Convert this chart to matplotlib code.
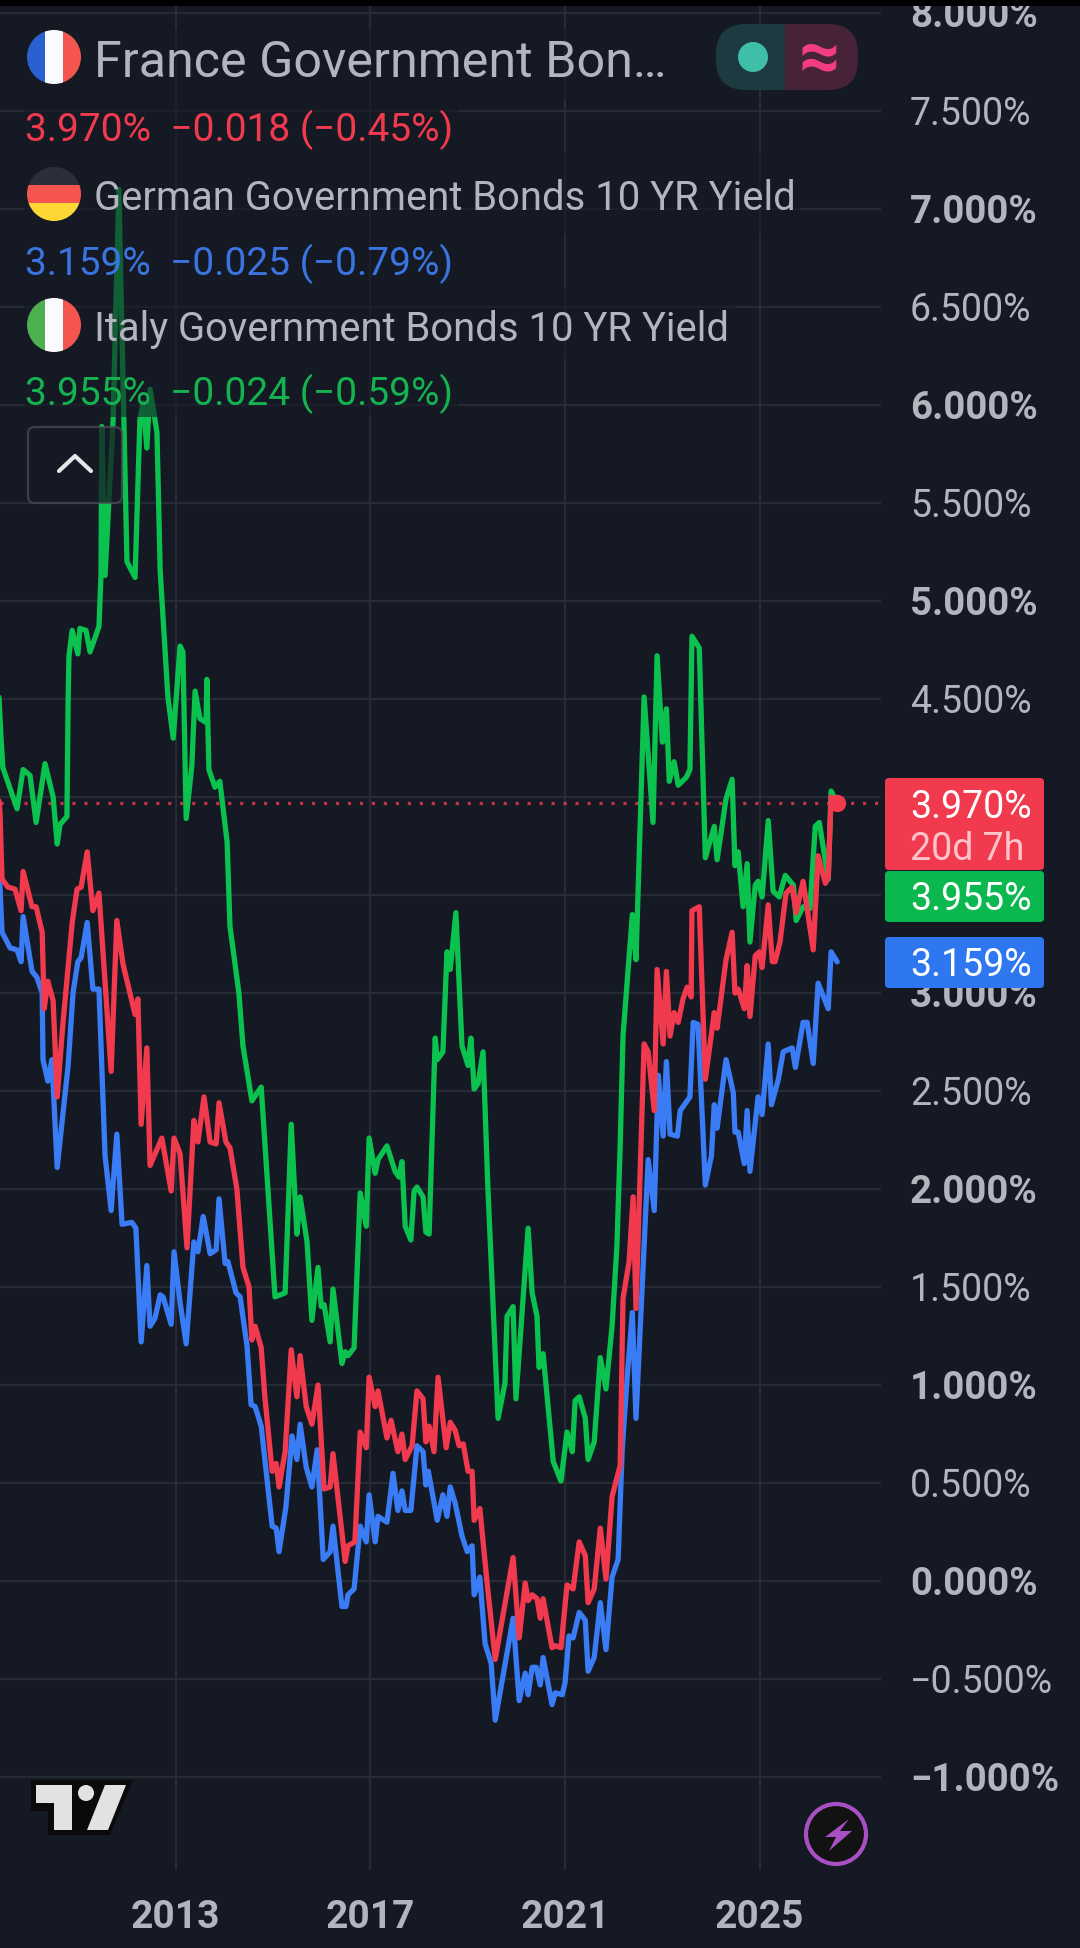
import matplotlib
matplotlib.use("Agg")
import matplotlib.pyplot as plt
from matplotlib.patches import Circle, FancyBboxPatch, Polygon, Rectangle
from matplotlib.transforms import ScaledTranslation, blended_transform_factory

plt.rcParams['font.family'] = ['Roboto', 'DejaVu Sans']

BG = '#151924'
GRID = '#272b36'
TEXT = '#b2b5be'
RED = '#f23a4e'
GREEN = '#0bc24f'
BLUE = '#3a7cf5'

# x values are months since January 2013
italy_m = [-44.0, -43.1, -42.6, -39.1, -37.6, -35.9, -34.4, -32.2, -30.2, -29.2, -28.5, -26.8, -26.5, -26.3, -25.5,
           -24.1, -23.6, -22.1, -21.1, -18.9, -18.4, -18.2, -17.4, -15.4, -14.0, -12.0, -10.0, -8.8, -8.0, -7.1,
           -6.3, -4.6, -3.8, -1.9, -0.6, 1.1, 1.8, 2.6, 4.0, 4.8, 6.0, 7.5, 7.7, 8.2, 9.7, 10.9, 12.7, 13.4, 15.6,
           16.6, 18.8, 21.1, 24.5, 27.0, 28.5, 29.9, 30.7, 32.4, 33.6, 35.1, 35.9, 36.6, 38.1, 38.8, 41.0, 41.8,
           42.5, 44.0, 45.5, 47.0, 47.7, 49.2, 49.9, 52.1, 54.1, 55.1, 55.8, 56.6, 58.0, 58.8, 59.5, 61.0, 61.7,
           62.5, 64.0, 64.5, 65.9, 66.9, 67.7, 69.1, 70.6, 72.1, 72.8, 73.6, 74.6, 75.8, 77.0, 79.5, 81.2, 81.7,
           83.2, 83.9, 86.9, 87.9, 89.1, 89.6, 90.6, 93.1, 95.0, 96.5, 97.8, 98.5, 99.5, 101.0, 101.7, 103.2,
           104.7, 106.1, 107.6, 108.8, 109.6, 110.3, 112.6, 113.5, 115.5, 117.7, 118.7, 120.0, 121.0, 121.7,
           122.9, 123.9, 125.9, 126.8, 127.3, 129.1, 130.6, 132.8, 133.5, 135.7, 137.2, 137.9, 138.7, 139.9,
           140.9, 141.6, 142.9, 143.6, 144.6, 146.1, 147.3, 148.8, 150.3, 152.3, 153.0, 154.7, 156.4, 157.7,
           158.7, 160.9, 161.6, 162.1, 163.1]
italy_y = [4.70, 4.32, 4.15, 3.94, 4.14, 4.11, 3.87, 4.17, 4.00, 3.76, 3.86, 3.90, 4.50, 4.72, 4.85,
           4.73, 4.86, 4.85, 4.74, 4.87, 5.13, 5.89, 5.13, 5.93, 7.10, 5.20, 5.12, 5.93, 6.01, 5.78,
           6.08, 5.86, 5.15, 4.51, 4.30, 4.77, 4.74, 3.89, 4.16, 4.54, 4.40, 4.38, 4.60, 4.14, 4.05, 4.08, 3.77, 3.34, 3.00,
           2.73, 2.45, 2.52, 1.45, 1.47, 2.33, 1.77, 1.96, 1.73, 1.33, 1.60, 1.40, 1.41, 1.22, 1.49, 1.11, 1.17,
           1.15, 1.19, 1.98, 1.81, 2.26, 2.08, 2.15, 2.22, 2.09, 2.06, 2.14, 1.81, 1.74, 1.99, 2.01, 1.96, 1.78,
           1.77, 2.77, 2.66, 2.70, 3.21, 3.12, 3.41, 2.73, 2.63, 2.77, 2.51, 2.54, 2.70, 2.00, 0.83, 1.01, 1.35,
           1.40, 0.93, 1.80, 1.47, 1.35, 1.09, 1.16, 0.61, 0.51, 0.76, 0.66, 0.92, 0.94, 0.83, 0.62, 0.71,
           1.14, 0.98, 1.30, 1.71, 2.22, 2.78, 3.40, 3.17, 4.51, 3.87, 4.72, 4.28, 4.45, 4.08,
           4.18, 4.06, 4.10, 4.14, 4.82, 4.76, 3.69, 3.85, 3.68, 3.99, 4.09, 3.65, 3.72, 3.44,
           3.66, 3.26, 3.55, 3.57, 3.49, 3.88, 3.52, 3.49, 3.60, 3.55, 3.37, 3.44, 3.43, 3.85,
           3.87, 3.58, 4.03, 4.01, 3.955]

germany_m = [-44.0, -43.3, -42.8, -40.8, -39.1, -38.1, -37.6, -35.4, -34.2, -32.9, -32.7, -31.5, -30.5, -29.2, -27.8,
             -26.5, -25.3, -24.1, -23.3, -21.8, -20.4, -18.9, -17.4, -15.9, -14.5, -13.2, -10.8, -9.8, -8.5, -7.1,
             -6.3, -5.1, -3.8, -3.1, -1.1, -0.4, 1.1, 2.6, 4.5, 5.5, 6.8, 8.5, 10.0, 10.7, 12.2, 12.9, 14.9, 15.9,
             17.6, 18.6, 19.6, 21.1, 23.8, 24.8, 25.5, 27.2, 28.7, 29.9, 30.7, 32.2, 33.6, 34.9, 36.4, 38.1, 38.8,
             41.0, 42.0, 42.5, 44.0, 45.5, 47.0, 47.7, 49.2, 49.9, 52.1, 53.6, 54.8, 55.8, 56.6, 58.0, 59.5, 61.0,
             61.7, 62.3, 64.5, 65.9, 66.9, 67.7, 68.9, 70.6, 71.9, 73.1, 73.6, 75.0, 76.3, 77.8, 78.8, 83.2, 84.7,
             86.2, 86.9, 87.9, 88.9, 89.9, 90.6, 92.8, 93.6, 95.3, 96.0, 97.0, 98.0, 99.5, 101.0, 101.7, 103.2,
             104.7, 106.1, 107.6, 109.1, 110.1, 111.3, 112.6, 113.5, 116.5, 118.0, 119.0, 120.2, 121.0, 121.9,
             123.7, 124.4, 126.8, 127.6, 128.8, 130.6, 132.1, 132.8, 133.5, 135.7, 137.5, 137.9, 138.7, 140.2,
             140.9, 141.6, 143.6, 144.6, 146.1, 146.9, 148.6, 149.8, 152.0, 152.8, 154.7, 155.7, 157.2, 158.4,
             160.9, 161.6, 163.1]
germany_y = [3.68, 3.54, 3.31, 3.23, 3.22, 3.16, 3.39, 3.11, 3.08, 3.00, 2.66, 2.55, 2.66, 2.11, 2.38,
             2.63, 3.00, 3.16, 3.18, 3.36, 3.02, 3.02, 2.17, 1.89, 2.28, 1.82, 1.83, 1.80, 1.22, 1.61,
             1.30, 1.34, 1.46, 1.45, 1.31, 1.68, 1.42, 1.21, 1.73, 1.68, 1.86, 1.67, 1.69, 1.95, 1.62, 1.63, 1.47, 1.45,
             1.20, 0.90, 0.89, 0.79, 0.28, 0.27, 0.15, 0.38, 0.74, 0.62, 0.80, 0.58, 0.48, 0.67, 0.11, 0.15, 0.28,
             -0.13, -0.13, -0.07, -0.04, 0.28, 0.20, 0.44, 0.20, 0.33, 0.30, 0.55, 0.36, 0.46, 0.36, 0.36, 0.69, 0.66,
             0.49, 0.56, 0.31, 0.44, 0.33, 0.48, 0.40, 0.23, 0.15, 0.18, -0.07, 0.02, -0.32, -0.42, -0.71, -0.19, -0.61,
             -0.47, -0.58, -0.44, -0.44, -0.53, -0.39, -0.63, -0.57, -0.58, -0.52, -0.28, -0.29, -0.16, -0.20, -0.46, -0.39,
             -0.11, -0.35, 0.02, 0.11, 0.67, 1.03, 1.37, 0.83, 2.15, 1.89, 2.58, 2.27, 2.65, 2.28,
             2.27, 2.40, 2.47, 2.85, 2.84, 2.02, 2.17, 2.43, 2.31, 2.66, 2.49, 2.29, 2.29, 2.13,
             2.40, 2.09, 2.47, 2.38, 2.74, 2.43, 2.56, 2.70, 2.72, 2.62, 2.85, 2.85, 2.64, 3.05,
             2.92, 3.21, 3.159]

france_m = [-44.0, -43.3, -42.8, -41.3, -39.6, -38.1, -37.6, -35.4, -34.4, -32.9, -32.4, -31.5, -30.2, -29.2, -27.8,
            -25.5, -24.3, -23.3, -21.8, -20.4, -18.9, -15.9, -14.5, -13.0, -10.0, -9.3, -8.5, -7.1, -6.3, -3.4,
            -1.1, -0.4, 1.1, 2.8, 4.5, 5.5, 7.0, 8.5, 10.0, 10.7, 12.4, 13.4, 15.1, 16.6, 18.1, 18.8, 19.6, 21.1,
            22.0, 23.8, 24.8, 25.5, 27.0, 28.5, 29.9, 30.7, 32.2, 33.6, 35.1, 36.6, 38.1, 38.8, 41.8, 42.5, 44.2,
            45.5, 47.0, 47.7, 49.2, 49.9, 52.1, 53.1, 54.8, 55.8, 56.6, 58.3, 59.5, 61.0, 61.7, 62.5, 63.7, 64.7,
            66.7, 67.7, 68.9, 69.9, 70.9, 72.1, 73.1, 73.6, 75.0, 76.8, 78.8, 83.2, 84.7, 86.2, 86.9, 87.9, 89.1,
            89.9, 90.6, 92.8, 93.6, 95.0, 96.5, 98.0, 99.5, 101.0, 101.7, 103.2, 104.7, 106.1, 107.6, 109.6, 110.3,
            111.8, 112.8, 113.5, 115.5, 116.5, 118.0, 118.7, 120.2, 121.0, 121.9, 122.9, 123.9, 125.1, 126.1,
            127.1, 127.3, 129.1, 130.6, 132.8, 133.5, 135.7, 137.2, 137.9, 138.7, 140.2, 140.9, 141.6, 142.9,
            143.9, 144.6, 146.1, 147.1, 147.8, 149.0, 150.5, 152.0, 153.0, 154.7, 157.2, 158.4, 160.2, 160.9,
            161.6, 163.1]
france_y = [4.09, 3.92, 3.58, 3.54, 3.53, 3.42, 3.62, 3.44, 3.44, 3.31, 2.92, 3.06, 2.96, 2.47, 2.84,
            3.36, 3.53, 3.54, 3.72, 3.42, 3.51, 2.60, 3.37, 3.15, 2.89, 2.97, 2.33, 2.72, 2.12, 2.26,
            1.99, 2.26, 2.18, 1.70, 2.35, 2.24, 2.47, 2.24, 2.23, 2.44, 2.24, 2.21, 2.00, 1.60, 1.50, 1.23, 1.30, 1.19,
            0.94, 0.56, 0.60, 0.48, 0.66, 1.18, 0.94, 1.15, 0.89, 0.80, 1.00, 0.47, 0.48, 0.65, 0.10, 0.18, 0.20,
            0.76, 0.68, 1.04, 0.89, 0.97, 0.73, 0.82, 0.66, 0.75, 0.62, 0.69, 0.97, 0.93, 0.71, 0.79, 0.66, 1.04,
            0.68, 0.81, 0.77, 0.69, 0.70, 0.56, 0.56, 0.31, 0.37, -0.01, -0.40, 0.12, -0.29, -0.01, -0.10, -0.07, -0.09,
            -0.19, -0.09, -0.34, -0.33, -0.34, -0.02, -0.04, 0.20, 0.13, -0.11, -0.04, 0.27, 0.01, 0.43, 0.59, 1.44,
            1.63, 1.96, 1.39, 2.74, 2.70, 2.40, 3.12, 2.74, 3.11, 2.78, 2.90, 2.85, 2.97, 3.03,
            2.98, 3.42, 3.44, 2.56, 2.90, 2.82, 3.17, 3.31, 3.00, 3.02, 2.92, 3.14, 2.88, 3.19,
            3.21, 3.13, 3.45, 3.16, 3.16, 3.26, 3.51, 3.54, 3.41, 3.57, 3.22, 3.70, 3.56, 3.59,
            4.00, 3.970]

y_ticks = [-1.0, -0.5, 0.0, 0.5, 1.0, 1.5, 2.0, 2.5, 3.0, 3.5, 4.0, 4.5, 5.0, 5.5, 6.0, 6.5, 7.0, 7.5, 8.0]
year_labels = ['2013', '2017', '2021', '2025']
year_months = [0, 48, 96, 144]

last_prices = [3.970, 3.955, 3.159]
legend_names = ['France Government Bon…', 'German Government Bonds 10 YR Yield', 'Italy Government Bonds 10 YR Yield']
legend_values = ['3.970%  −0.018 (−0.45%)', '3.159%  −0.025 (−0.79%)', '3.955%  −0.024 (−0.59%)']


def fmt_tick(v):
    return f"{v:.3f}%".replace('-', '−')


def flag(ui, cy, stripes, vertical):
    # round flag icon: three stripes clipped to a circle
    clip = Circle((54, cy), 27, transform=ui.transData)
    for i, color in enumerate(stripes):
        if vertical:
            r = Rectangle((27 + i * 18, cy - 27), 18, 54, fc=color, ec='none', zorder=6)
        else:
            r = Rectangle((27, cy - 27 + i * 18), 54, 18, fc=color, ec='none', zorder=6)
        ui.add_patch(r)
        r.set_clip_path(clip)


def draw_legend(ui):
    # see-through backing of the legend rows, it dims the lines behind it
    for x0, x1, y0, y1 in [(24, 680, 30, 100), (24, 458, 100, 152), (24, 800, 152, 235),
                           (24, 458, 235, 288), (24, 735, 288, 360), (24, 458, 360, 418)]:
        ui.add_patch(Rectangle((x0, y0), x1 - x0, y1 - y0, fc=BG, ec='none', alpha=0.58, zorder=5))

    flag(ui, 58, ['#2962d0', '#fbfbff', '#f4564f'], True)
    flag(ui, 195, ['#2a2e39', '#f4564f', '#fdd835'], False)
    flag(ui, 326, ['#4caf50', '#fbfbff', '#f4564f'], True)

    ui.text(94, 63, legend_names[0], color=TEXT, fontsize=36.2, va='center', zorder=7)
    ui.text(94, 198, legend_names[1], color=TEXT, fontsize=28.8, va='center', zorder=7)
    ui.text(94, 329, legend_names[2], color=TEXT, fontsize=28.8, va='center', zorder=7)
    ui.text(25, 130, legend_values[0], color=RED, fontsize=28, va='center', zorder=7)
    ui.text(25, 264, legend_values[1], color='#3a74e0', fontsize=28, va='center', zorder=7)
    ui.text(25, 394, legend_values[2], color='#14b350', fontsize=28, va='center', zorder=7)

    # market status pill
    pill = FancyBboxPatch((716, 25), 142, 66, boxstyle="round,pad=0,rounding_size=30", fc='none', ec='none')
    ui.add_patch(pill)
    left = Rectangle((716, 25), 69, 66, fc='#1c3a40', ec='none', zorder=6)
    right = Rectangle((785, 25), 73, 66, fc='#47233a', ec='none', zorder=6)
    ui.add_patch(left)
    ui.add_patch(right)
    left.set_clip_path(pill)
    right.set_clip_path(pill)
    ui.add_patch(Circle((753, 58), 15, fc='#3fbfa8', ec='none', zorder=7))
    ui.text(819, 60, '≈', color='#f23d85', fontsize=52, fontweight='bold', ha='center', va='center', zorder=7)

    # collapse button
    ui.add_patch(FancyBboxPatch((28, 428), 94, 76, boxstyle="round,pad=0,rounding_size=7",
                                fc=BG, ec='#4a4d55', lw=1.6, alpha=0.75, zorder=5))
    ui.plot([59, 75, 91], [472, 457, 472], color='#e6e6e8', lw=3, solid_capstyle='round', zorder=7)


def draw_logo(ui):
    ui.add_patch(Polygon([(31, 1781), (133, 1781), (110, 1836), (48, 1836), (48, 1812), (31, 1812)], fc='#0a0a0a', ec='none'))
    ui.add_patch(Polygon([(36, 1786), (72, 1786), (72, 1831), (54, 1831), (54, 1804), (36, 1804)], fc='#e2e2e2', ec='none'))
    ui.add_patch(Circle((86, 1794), 8, fc='#e2e2e2', ec='none'))
    ui.add_patch(Polygon([(105, 1786), (126, 1786), (108, 1831), (87, 1831)], fc='#e2e2e2', ec='none'))


def draw_bolt(ui):
    ui.add_patch(Circle((836, 1835), 30, fc='#121212', ec='#a84fc4', lw=3))
    ui.add_patch(Polygon([(849, 1820), (825, 1838), (836, 1838), (829, 1852), (852, 1832), (840, 1832)],
                         fc='#a84fc4', ec='none'))


if __name__ == "__main__":
    fig = plt.figure(figsize=(10.8, 19.49), dpi=100, facecolor=BG)

    ax = fig.add_axes([0, 0, 1, 1], facecolor=BG)
    ax.set_xlim(-43.3, 222.97)
    ax.set_ylim(-1.872, 8.071)
    ax.axis('off')

    ax.hlines(y_ticks, -43.3, 173.9, color=GRID, lw=1.6, zorder=1)
    ax.vlines(year_months, -1.474, 8.071, color=GRID, lw=1.6, zorder=1)
    ax.hlines(last_prices[0], -43.3, 173.9, color=RED, lw=2.3, linestyles=[(0, (1, 2.75))], alpha=0.8, zorder=2)

    for m, y, color in [(italy_m, italy_y, GREEN), (germany_m, germany_y, BLUE), (france_m, france_y, RED)]:
        ax.plot(m, y, color=color, lw=3.8, solid_joinstyle='round', solid_capstyle='round', zorder=3)
    ax.plot(france_m[-1], france_y[-1], 'o', color=RED, ms=12.5, mew=0, zorder=4)

    # overlay in screen pixels for labels and chart furniture
    ui = fig.add_axes([0, 0, 1, 1], facecolor='none')
    ui.set_xlim(0, 1080)
    ui.set_ylim(1949, 0)
    ui.axis('off')

    # tick labels sit a little under the grid line, as in the app
    nudge = ScaledTranslation(0, -2.5 / 100, fig.dpi_scale_trans)
    right_tr = blended_transform_factory(ui.transData, ax.transData) + nudge
    bottom_tr = blended_transform_factory(ax.transData, ui.transData)

    for v in y_ticks:
        bold = float(v).is_integer()
        ui.text(910, v, fmt_tick(v), transform=right_tr, color=TEXT, fontsize=27.7 if bold else 27,
                fontweight='bold' if bold else 'normal', va='center', zorder=2)
    for m, label in zip(year_months, year_labels):
        ui.text(m, 1918, label, transform=bottom_tr, color=TEXT, fontsize=28, fontweight='bold',
                ha='center', va='center')

    # last price tags
    for y0, y1, color in [(779, 871, RED), (872, 923, '#0ab84f'), (938, 989, '#2f77f0')]:
        ui.add_patch(FancyBboxPatch((885, y0), 159, y1 - y0, boxstyle="round,pad=0,rounding_size=4",
                                    fc=color, ec='none', zorder=3))
    ui.text(910, 807, '3.970%', color='white', fontsize=27, va='center', zorder=4)
    ui.text(910, 849, '20d 7h', color='#ffc4cb', fontsize=27, va='center', zorder=4)
    ui.text(910, 899, '3.955%', color='white', fontsize=27, va='center', zorder=4)
    ui.text(910, 966, '3.159%', color='white', fontsize=27, va='center', zorder=4)

    draw_legend(ui)
    draw_logo(ui)
    draw_bolt(ui)

    # black status strip at the very top
    ui.add_patch(Rectangle((0, 0), 1080, 7, fc='black', ec='none', zorder=9))

    fig.savefig("out.png", dpi=100, facecolor=BG)
